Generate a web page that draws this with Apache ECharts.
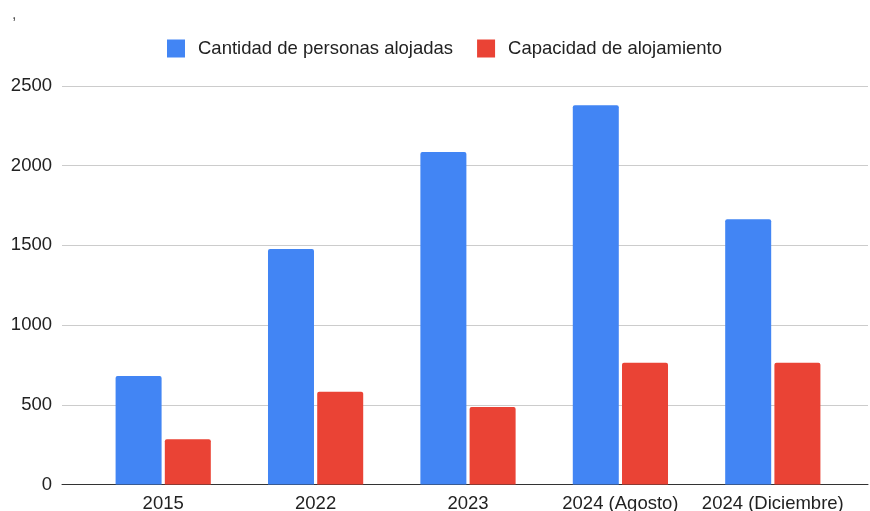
<!DOCTYPE html>
<html>
<head>
<meta charset="utf-8">
<script src="https://cdn.jsdelivr.net/npm/echarts@6/dist/echarts.min.js"></script>
<style>
  html, body { margin: 0; padding: 0; background: #fff; }
  #chart { width: 870px; height: 511px; }
</style>
</head>
<body>
<div id="chart"></div>
<script>
const categories = ['2015', '2022', '2023', '2024 (Agosto)', '2024 (Diciembre)']
const personasAlojadas = [680, 1477, 2086, 2379, 1664]
const capacidadAlojamiento = [284, 582, 486, 764, 764]
const seriesNames = ['Cantidad de personas alojadas', 'Capacidad de alojamiento']
const color = ['#4285f4', '#ea4335']

const fontFamily = 'Arial, "Liberation Sans", sans-serif'
const textColor = '#222222'
const fontSize = 18.5

const myChart = echarts.init(document.getElementById('chart'))

myChart.setOption({
  animation: false,
  color: color,
  title: {
    text: ',',
    left: 7,
    top: 2,
    textStyle: { fontSize: 16, fontWeight: 'normal', color: '#555555', fontFamily }
  },
  legend: {
    top: 39,
    left: 167,
    padding: 0,
    icon: 'rect',
    itemWidth: 18,
    itemHeight: 18,
    itemGap: 24,
    textStyle: { fontSize: fontSize, color: textColor, fontFamily, padding: [0, 0, 0, 8] },
    data: seriesNames
  },
  // outer grid: gridlines and y labels over full width
  // inner grid: bars, inset like Google Sheets
  grid: [
    { left: 62, right: 2, top: 86, bottom: 26.5, outerBoundsMode: 'none' },
    { left: 87, right: 21, top: 86, bottom: 26.5, outerBoundsMode: 'none' }
  ],
  xAxis: [
    {
      gridIndex: 0,
      type: 'category',
      data: categories,
      axisLabel: { show: false },
      axisTick: { show: false },
      axisLine: { lineStyle: { color: '#333333', width: 1 } }
    },
    {
      gridIndex: 1,
      type: 'category',
      data: categories,
      axisTick: { show: false },
      axisLine: { show: false },
      axisLabel: { interval: 0, fontSize: fontSize, color: textColor, fontFamily, margin: 10 }
    }
  ],
  yAxis: [
    {
      gridIndex: 0,
      type: 'value',
      min: 0,
      max: 2500,
      interval: 500,
      axisLine: { show: false },
      axisTick: { show: false },
      axisLabel: {
        fontSize: fontSize,
        color: textColor,
        fontFamily,
        margin: 10,
        formatter: (v) => String(v)
      },
      splitLine: { lineStyle: { color: '#cccccc', width: 1 } }
    },
    {
      gridIndex: 1,
      type: 'value',
      min: 0,
      max: 2500,
      interval: 500,
      show: false,
      splitLine: { show: false }
    }
  ],
  series: [
    {
      name: seriesNames[0],
      type: 'bar',
      xAxisIndex: 1,
      yAxisIndex: 1,
      barWidth: 46,
      barGap: '7%',
      itemStyle: { borderRadius: [2, 2, 0, 0] },
      data: personasAlojadas
    },
    {
      name: seriesNames[1],
      type: 'bar',
      xAxisIndex: 1,
      yAxisIndex: 1,
      barWidth: 46,
      barGap: '7%',
      itemStyle: { borderRadius: [2, 2, 0, 0] },
      data: capacidadAlojamiento
    }
  ]
})
</script>
</body>
</html>
